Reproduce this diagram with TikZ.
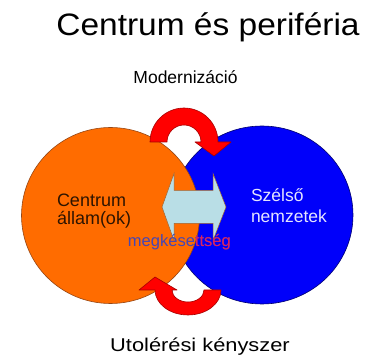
\documentclass[tikz,border=0pt]{standalone}
\usepackage{fontspec}
\setmainfont{Liberation Sans}
\usepackage{graphicx}
\definecolor{orng}{RGB}{255,108,0}
\definecolor{orngline}{RGB}{150,70,20}
\definecolor{blu}{RGB}{0,0,250}
\definecolor{bluline}{RGB}{0,0,110}
\definecolor{rd}{RGB}{255,0,0}
\definecolor{rdline}{RGB}{165,0,0}
\definecolor{cyn}{RGB}{185,222,230}
\definecolor{cynline}{RGB}{160,100,50}
\definecolor{darkbrown}{RGB}{45,20,0}
\definecolor{lav}{RGB}{228,228,255}
\definecolor{mblue}{RGB}{70,70,180}
\definecolor{mred}{RGB}{225,30,95}
\tikzset{
  txt/.style={inner sep=0pt, outer sep=0pt, anchor=base west},
  redarrow/.style={fill=rd, draw=rdline, line width=0.6pt, line join=round},
}
\begin{document}
\begin{tikzpicture}[x=1pt,y=1pt]
\useasboundingbox (0,0) rectangle (365,356);
% circles
\path[fill=blu, draw=bluline, line width=0.6pt] (262,141) ellipse [x radius=91, y radius=89];
\path[fill=orng, draw=orngline, line width=0.6pt] (110.5,140.5) ellipse [x radius=89, y radius=88];
% double arrow
\path[fill=cyn, draw=cynline, line width=0.5pt, line join=miter]
  (162,149) -- (174,182.5) -- (174,165.5) -- (213,165.5) -- (213,182.5) -- (226,149)
  -- (213,115.5) -- (213,132.5) -- (174,132.5) -- (174,115.5) -- cycle;
% top red curved arrow
\path[redarrow] (150,214) arc[start angle=180, end angle=0, radius=34]
  -- (231,214) -- (214,200) -- (195,214) -- (201,214)
  arc[start angle=0, end angle=180, radius=17] -- cycle;
% bottom red curved arrow
\path[redarrow] (221,66) arc[start angle=0, end angle=-180, x radius=33, y radius=25]
  -- (139,66) -- (155,79) -- (177,66) -- (172,66)
  arc[start angle=180, end angle=360, x radius=16, y radius=12] -- cycle;
% texts
\node[txt, anchor=base] (title) at (208,320) {\fontsize{31}{31}\selectfont\scalebox{1.08}[1]{Centrum és periféria}};
\node[txt, anchor=base] (modern) at (185.5,272) {\fontsize{17.5}{17.5}\selectfont Modernizáció};
\node[txt, anchor=base] (utol) at (200,4) {\fontsize{18.5}{18.5}\selectfont\scalebox{1.18}[1]{Utolérési kényszer}};
\node[txt, text=darkbrown] (centrum) at (57,149) {\fontsize{18}{18}\selectfont Centrum};
\node[txt, text=darkbrown] (allam) at (57,131) {\fontsize{18}{18}\selectfont állam(ok)};
\node[txt, text=lav] (szelso) at (251,154) {\fontsize{17.5}{17.5}\selectfont Szélső};
\node[txt, text=lav] (nemzet) at (251,133) {\fontsize{17.5}{17.5}\selectfont nemzetek};
\node[txt, text=mblue] (megk) at (128,109) {\fontsize{16.5}{16.5}\selectfont megkésettség};
\begin{scope}
  \clip (198,126) -- (189,98) -- (260,98) -- (260,126) -- cycle;
  \node[txt, text=mred] (megkr) at (128,109) {\fontsize{16.5}{16.5}\selectfont megkésettség};
\end{scope}
\end{tikzpicture}
\end{document}
